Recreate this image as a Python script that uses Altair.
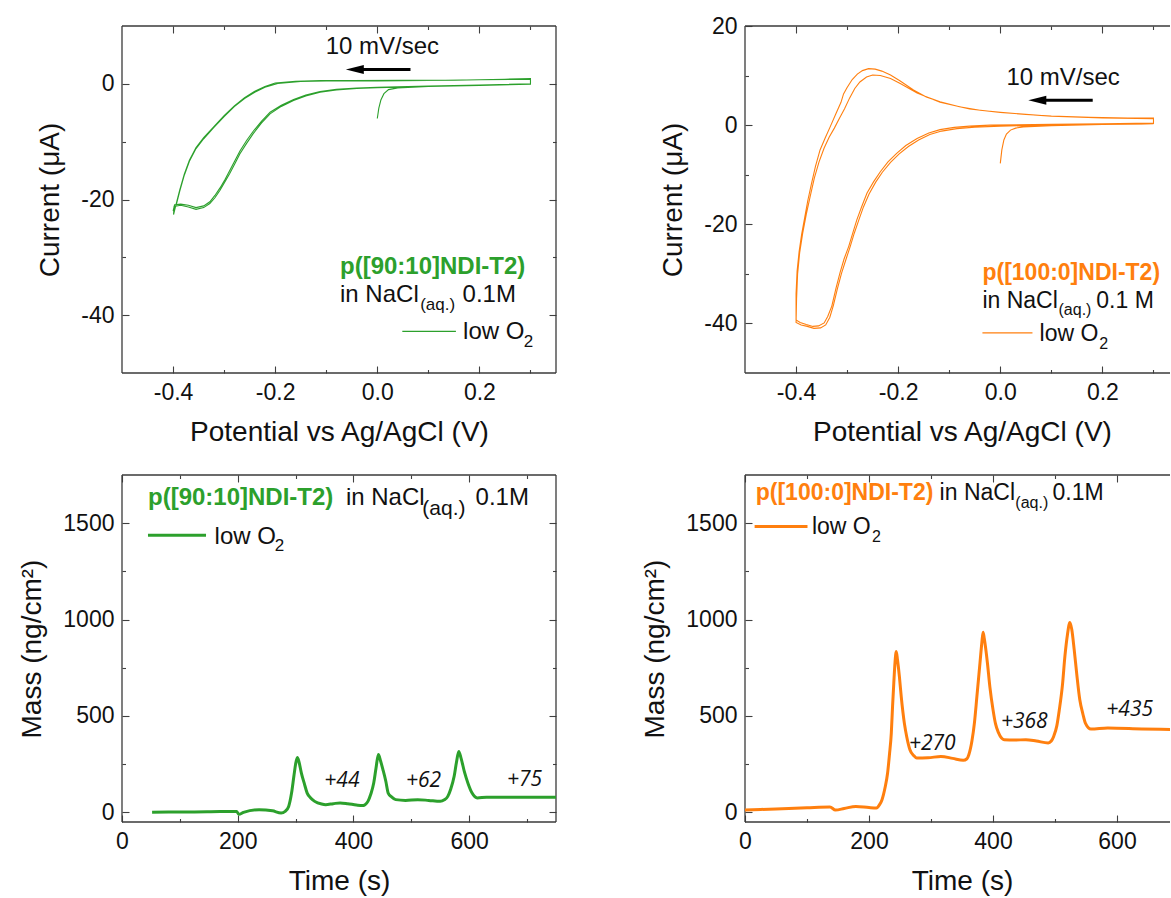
import altair as alt
import pandas as pd

# ---------------- data ----------------
# top-left: p([90:10]NDI-T2) cyclic voltammogram (V, uA), in scan order
cv90_v = [0.000, 0.003, 0.007, 0.013, 0.022, 0.040, 0.100, 0.200, 0.300,
          0.300, 0.250, 0.150, 0.050, -0.050, -0.110, -0.160, -0.200, -0.220, -0.240, -0.260, -0.280, -0.300,
          -0.320, -0.340, -0.355, -0.368, -0.378, -0.387, -0.394, -0.399,
          -0.398, -0.385, -0.370, -0.355, -0.340, -0.328, -0.318, -0.308, -0.298, -0.289, -0.279, -0.269,
          -0.256, -0.243, -0.227, -0.210, -0.188, -0.164, -0.140, -0.112, -0.080, -0.040, 0.000, 0.100, 0.200, 0.300,
          0.300, 0.200, 0.100, 0.000, -0.100, -0.150, -0.195, -0.220, -0.240, -0.260, -0.280, -0.300,
          -0.320, -0.340, -0.355, -0.368, -0.378, -0.387, -0.394, -0.400,
          -0.397, -0.385, -0.370, -0.355, -0.340, -0.328, -0.318, -0.308, -0.298, -0.289, -0.279, -0.269,
          -0.256, -0.243, -0.227, -0.210, -0.188, -0.164, -0.140, -0.112, -0.080, -0.040, 0.000, 0.100, 0.200, 0.300]
cv90_i = [-6.0, -4.2, -2.8, -1.7, -1.0, -0.7, -0.45, -0.25, -0.05,
          0.90, 0.80, 0.62, 0.60, 0.58, 0.55, 0.42, 0.15, -0.45, -1.30, -2.40, -3.80, -5.50,
          -7.40, -9.30, -11.0, -13.2, -15.6, -18.4, -20.8, -22.6,
          -21.2, -21.0, -21.3, -21.7, -21.4, -20.7, -19.7, -18.4, -16.9, -15.5, -13.8, -12.1,
          -10.3, -8.6, -6.8, -5.2, -3.9, -2.9, -2.1, -1.45, -1.05, -0.80, -0.65, -0.45, -0.28, -0.08,
          0.80, 0.70, 0.58, 0.52, 0.50, 0.40, 0.05, -0.60, -1.45, -2.55, -3.95, -5.65,
          -7.55, -9.50, -11.2, -13.4, -15.8, -18.6, -21.0, -22.0,
          -20.9, -20.8, -21.0, -21.4, -21.1, -20.4, -19.3, -18.0, -16.5, -15.0, -13.3, -11.6,
          -9.8, -8.2, -6.5, -4.9, -3.7, -2.7, -1.95, -1.35, -0.95, -0.72, -0.58, -0.40, -0.22, 0.00]

# top-right: p([100:0]NDI-T2) cyclic voltammogram (V, uA), in scan order
cv100_v = [0.000, 0.003, 0.007, 0.012, 0.020, 0.030, 0.045, 0.100, 0.200, 0.300,
           0.300, 0.250, 0.175, 0.100, 0.050, 0.000, -0.040, -0.080, -0.118, -0.145, -0.170, -0.196, -0.215,
           -0.232, -0.245, -0.258, -0.270, -0.280, -0.290, -0.300, -0.307, -0.312, -0.322, -0.333, -0.343,
           -0.353, -0.362, -0.370, -0.377, -0.383, -0.389, -0.394, -0.398, -0.400, -0.400,
           -0.392, -0.380, -0.367, -0.356, -0.345, -0.338, -0.330, -0.322, -0.314, -0.306, -0.297, -0.289,
           -0.281, -0.271, -0.261, -0.248, -0.235, -0.220, -0.203, -0.185, -0.163, -0.140, -0.118, -0.090,
           -0.060, -0.020, 0.100, 0.200, 0.300,
           0.300, 0.200, 0.100, 0.000, -0.060, -0.118, -0.163, -0.196, -0.215, -0.235, -0.250, -0.262,
           -0.275, -0.285, -0.295, -0.305, -0.315, -0.325, -0.335, -0.345, -0.355, -0.364, -0.372, -0.380,
           -0.387, -0.393, -0.397, -0.399, -0.400,
           -0.390, -0.378, -0.365, -0.352, -0.342, -0.334, -0.327, -0.319, -0.311, -0.302, -0.294, -0.286,
           -0.277, -0.268, -0.257, -0.244, -0.231, -0.215, -0.198, -0.180, -0.160, -0.138, -0.115, -0.085,
           -0.050, 0.000, 0.100, 0.200, 0.300]
cv100_i = [-7.7, -5.0, -3.0, -1.8, -1.0, -0.6, -0.35, -0.10, 0.15, 0.35,
           1.45, 1.45, 1.60, 1.85, 2.15, 2.60, 3.00, 3.70, 4.70, 5.70, 7.10, 8.90, 10.1,
           10.9, 11.3, 11.4, 11.0, 10.3, 9.2, 7.6, 6.3, 4.6, 2.3, -0.3, -2.6,
           -5.0, -8.3, -11.9, -15.2, -18.6, -22.0, -25.5, -29.5, -34.0, -39.3,
           -39.8, -40.2, -40.6, -40.5, -39.9, -38.6, -36.5, -33.0, -29.8, -27.0, -24.5, -21.8,
           -19.1, -16.3, -13.7, -11.4, -9.4, -7.4, -5.7, -4.1, -2.7, -1.6, -0.90, -0.45,
           -0.20, 0.00, 0.15, 0.25, 0.40,
           1.30, 1.45, 1.80, 2.55, 3.25, 4.60, 6.50, 8.40, 9.40, 10.0, 10.1, 9.7,
           8.7, 7.4, 5.5, 3.3, 1.4, -0.6, -2.4, -4.6, -7.4, -10.6, -14.2, -18.0,
           -21.8, -25.8, -30.0, -35.0, -39.8,
           -40.3, -40.6, -41.0, -40.9, -40.3, -38.8, -36.4, -33.0, -29.9, -27.0, -24.5, -21.8,
           -19.1, -16.5, -13.9, -11.5, -9.5, -7.5, -5.8, -4.3, -3.0, -1.9, -1.20, -0.70,
           -0.40, -0.20, 0.00, 0.12, 0.25]

# bottom-left: p([90:10]NDI-T2) EQCM mass (s, ng/cm2)
m90_t = [52, 100, 150, 198, 202, 210, 237, 260, 275, 282, 288, 293, 297, 300, 303, 306, 310, 315, 320, 326,
         333, 345, 352, 365, 377, 390, 405, 415, 420, 425, 430, 435, 439, 443, 447, 451, 456, 460, 466, 473,
         490, 511, 530, 550, 557, 563, 568, 574, 578, 582, 586, 592, 598, 605, 614, 630, 684, 750]
m90_m = [0, 2, 3, 5, -10, 0, 14, 8, -3, 5, 31, 100, 187, 250, 285, 260, 204, 150, 100, 75,
         57, 43, 40, 45, 49, 45, 38, 35, 40, 57, 95, 152, 230, 300, 265, 221, 160, 100, 80, 66,
         62, 66, 62, 57, 65, 83, 120, 187, 260, 316, 280, 207, 150, 100, 75, 78, 78, 78]

# bottom-right: p([100:0]NDI-T2) EQCM mass (s, ng/cm2)
m100_t = [0, 50, 100, 137, 146, 160, 179, 200, 212, 217, 221, 226, 230, 233, 236, 238, 240, 242, 244, 246,
          249, 252, 257, 261, 266, 272, 277, 295, 316, 335, 352, 358, 361, 366, 370, 374, 379, 382, 384, 386,
          391, 395, 400, 404, 409, 418, 435, 453, 470, 489, 494, 498, 503, 507, 512, 516, 520, 524, 527, 531,
          535, 540, 545, 549, 558, 585, 640, 686]
m100_m = [12, 18, 24, 28, 12, 20, 31, 25, 23, 40, 66, 130, 204, 300, 412, 550, 671, 780, 835, 790,
          705, 600, 463, 390, 325, 295, 282, 283, 290, 280, 270, 278, 299, 370, 463, 600, 775, 880, 934, 900,
          775, 650, 533, 460, 412, 377, 375, 377, 370, 360, 370, 395, 450, 533, 660, 810, 920, 985, 950, 843,
          720, 584, 510, 463, 432, 438, 433, 430]

gain90 = ["+44", "+62", "+75"]
gain100 = ["+270", "+368", "+435"]

# axis tick values
x_cv_major = [-0.4, -0.2, 0.0, 0.2]
x_cv_minor = [-0.3, -0.1, 0.1, 0.3]
y_cv90_major = [0, -20, -40]
y_cv90_minor = [-10, -30]
y_cv100_major = [20, 0, -20, -40]
y_cv100_minor = [10, -10, -30]
x_m_major = [0, 200, 400, 600]
x_m90_minor = [100, 300, 500, 700]
x_m100_minor = [100, 300, 500]
y_m_major = [0, 500, 1000, 1500]
y_m_minor = [250, 750, 1250]

# ---------------- styling ----------------
GREEN = "#2ca02c"
ORANGE = "#ff7f0e"
INK = "#111111"
TICKC = "#404040"
FRAMEC = "#3a3a3a"
FONT = "Liberation Sans"
ITFONT = "Open Sans"
WL, WR, H = 434, 425, 347


def path_df(xs, ys):
    return pd.DataFrame({"x": xs, "y": ys, "k": list(range(len(xs)))})


def mk_axis(orient, values, major=True, fmt=None, title=None, label_pad=8.5, title_pad=15, title_x=None):
    size = 7 if major else 3.5
    kw = dict(orient=orient, values=values, grid=False, domain=False,
              offset=-size, tickSize=size, tickColor=TICKC, tickWidth=1.1)
    if fmt:
        kw.update(labels=True, format=fmt, labelExpr="replace(datum.label, '\u2212', '-')",
                  labelFont=FONT, labelFontSize=23, labelColor=INK, labelPadding=label_pad,
                  labelFlush=False, labelOverlap=False)
    else:
        kw.update(labels=False)
    if title:
        kw.update(title=title, titleFont=FONT, titleFontSize=28, titleFontWeight="normal",
                  titleColor=INK, titlePadding=title_pad)
        if title_x is not None:
            kw["titleX"] = title_x
    else:
        kw["title"] = None
    return alt.Axis(**kw)


def texts(rows, size, color=INK, weight="normal", style="normal", font=FONT, align="left"):
    df = pd.DataFrame(rows, columns=["x", "y", "t"])
    return alt.Chart(df).mark_text(align=align, baseline="middle", fontSize=size, font=font,
                                   fontWeight=weight, fontStyle=style, color=color).encode(
        x=alt.X("x:Q", axis=None), y=alt.Y("y:Q", axis=None), text="t:N")


def hrule(x1, x2, y, color, w):
    df = pd.DataFrame({"x": [x1], "x2": [x2], "y": [y]})
    return alt.Chart(df).mark_rule(color=color, strokeWidth=w).encode(
        x=alt.X("x:Q", axis=None), x2="x2:Q", y=alt.Y("y:Q", axis=None))


def arrow(x_head, x_tail, y):
    df = pd.DataFrame({"x": [x_head], "y": [y]})
    head = alt.Chart(df).mark_point(shape="M-1,0L1,-0.5L1,0.5Z", filled=True, size=324,
                                    color="black", opacity=1).encode(
        x=alt.X("x:Q", axis=None), y=alt.Y("y:Q", axis=None))
    return [hrule(x_head, x_tail, y, "black", 3), head]


def panel(df, color, sw, W, xdom, ydom, xmaj, xmin, ymaj, ymin, xfmt, yfmt, xtitle, ytitle,
          right_side, ytitle_pad, extra, interp="linear", title_x=None):
    xs = alt.Scale(domain=xdom, nice=False, zero=False)
    ys = alt.Scale(domain=ydom, nice=False, zero=False)
    main = alt.Chart(df).mark_line(color=color, strokeWidth=sw, clip=True, interpolate=interp).encode(
        x=alt.X("x:Q", scale=xs, axis=mk_axis("bottom", xmaj, True, xfmt, xtitle, 8.5, 14, title_x)),
        y=alt.Y("y:Q", scale=ys, axis=mk_axis("left", ymaj, True, yfmt, ytitle, 8, ytitle_pad)),
        order="k:Q")
    g = pd.DataFrame({"gx": [xdom[0]], "gy": [ydom[0]]})

    def ghost(xa, ya):
        return alt.Chart(g).mark_point(opacity=0).encode(
            x=alt.X("gx:Q", scale=xs, axis=xa), y=alt.Y("gy:Q", scale=ys, axis=ya))

    ghosts = [ghost(mk_axis("bottom", xmin, False), mk_axis("left", ymin, False)),
              ghost(mk_axis("top", xmaj, True), mk_axis("right", ymaj, True) if right_side else None),
              ghost(mk_axis("top", xmin, False), mk_axis("right", ymin, False) if right_side else None)]
    one = pd.DataFrame({"z": [0]})
    fr = alt.Chart(one).mark_rule(color=FRAMEC, strokeWidth=1.3)
    frames = [fr.encode(x=alt.value(0), x2=alt.value(W), y=alt.value(0)),
              fr.encode(x=alt.value(0), x2=alt.value(W), y=alt.value(H)),
              fr.encode(x=alt.value(0), y=alt.value(0), y2=alt.value(H))]
    if right_side:
        frames.append(fr.encode(x=alt.value(W), y=alt.value(0), y2=alt.value(H)))
    return alt.layer(*frames, main, *ghosts, *extra).resolve_axis(
        x="independent", y="independent").properties(width=W, height=H)


# ---------------- panels ----------------
tl_extra = [texts([(-0.101, 6.3, "10 mV/sec")], 24),
            *arrow(-0.044, 0.065, 2.47),
            texts([(-0.073, -31.6, "p([90:10]NDI-T2)")], 24, GREEN, weight="bold"),
            texts([(-0.073, -36.5, "in NaCl"), (0.167, -36.5, "0.1M"), (0.168, -42.9, "low O")], 24),
            texts([(0.084, -38.2, "(aq.)"), (0.287, -44.6, "2")], 17),
            hrule(0.049, 0.154, -42.8, GREEN, 1.2)]
tl = panel(path_df(cv90_v, cv90_i), GREEN, 1.1, WL, [-0.5, 0.35], [-50, 10],
           x_cv_major, x_cv_minor, y_cv90_major, y_cv90_minor, ".1f", "d",
           "Potential vs Ag/AgCl (V)", "Current (\u03bcA)", True, 16, tl_extra)

tr_extra = [texts([(0.012, 9.6, "10 mV/sec")], 24),
            *arrow(0.0725, 0.181, 5.0),
            texts([(-0.035, -29.8, "p([100:0]NDI-T2)")], 23, ORANGE, weight="bold"),
            texts([(-0.035, -35.5, "in NaCl"), (0.188, -35.5, "0.1 M"), (0.077, -42.2, "low O")], 23),
            texts([(0.114, -37.2, "(aq.)"), (0.194, -44.1, "2")], 16),
            hrule(-0.035, 0.063, -41.9, ORANGE, 1.2)]
tr = panel(path_df(cv100_v, cv100_i), ORANGE, 1.1, WR, [-0.5, -0.5 + WR / 510.6], [-50, 20],
           x_cv_major, x_cv_minor, y_cv100_major, y_cv100_minor, ".1f", "d",
           "Potential vs Ag/AgCl (V)", "Current (\u03bcA)", False, 16, tr_extra, title_x=217)

bl_extra = [texts([(44.9, 1632, "p([90:10]NDI-T2)")], 24, GREEN, weight="bold"),
            texts([(387, 1632, "in NaCl"), (611, 1632, "0.1M"), (160, 1430, "low O")], 24),
            texts([(519, 1575, "(aq.)")], 21),
            texts([(264, 1381, "2")], 17),
            hrule(44.9, 145.2, 1437, GREEN, 3),
            texts([(380, 161, gain90[0]), (521, 161, gain90[1]), (695.7, 170, gain90[2])], 21,
                  style="italic", font=ITFONT, align="center")]
bl = panel(path_df(m90_t, m90_m), GREEN, 3, WL, [0, 750], [-50, 1750],
           x_m_major, x_m90_minor, y_m_major, y_m_minor, "d", "d",
           "Time (s)", "Mass (ng/cm\u00b2)", True, 16, bl_extra, interp="monotone")

br_extra = [texts([(17.3, 1657, "p([100:0]NDI-T2)")], 23, ORANGE, weight="bold"),
            texts([(313.9, 1657, "in NaCl"), (496, 1657, "0.1M"), (108, 1480, "low O")], 23),
            texts([(436, 1606, "(aq.)"), (205, 1430, "2")], 16),
            hrule(15.5, 100.8, 1483, ORANGE, 3),
            texts([(302, 356, gain100[0]), (450.5, 467, gain100[1]), (620.5, 533, gain100[2])], 21,
                  style="italic", font=ITFONT, align="center")]
br = panel(path_df(m100_t, m100_m), ORANGE, 3, WR, [0, WR / 0.62], [-50, 1750],
           x_m_major, x_m100_minor, y_m_major, y_m_minor, "d", "d",
           "Time (s)", "Mass (ng/cm\u00b2)", False, 16, br_extra, interp="monotone", title_x=217)

chart = alt.concat(tl, tr, bl, br, columns=2, spacing={"row": 102, "column": 189},
                   bounds="flush").properties(
    padding={"left": 18, "top": 15, "right": 0, "bottom": 0},
    background="white").configure_view(stroke=None)

chart.save("out.html", embed_options={"renderer": "svg", "actions": False})
